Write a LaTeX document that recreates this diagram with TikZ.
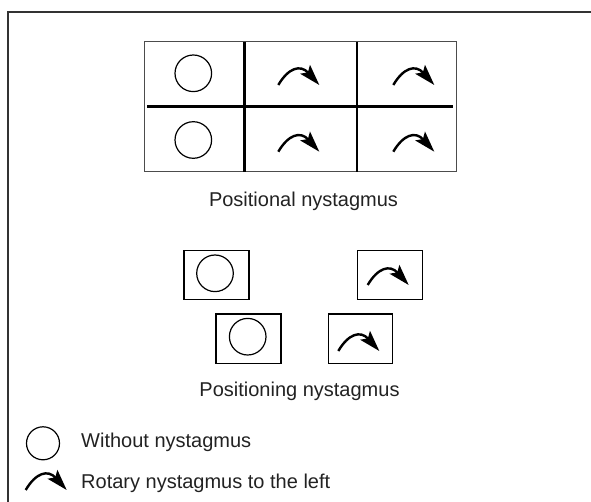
\documentclass[tikz,border=0pt]{standalone}
\usepackage{fontspec}
\setmainfont{Liberation Sans}
\usetikzlibrary{arrows.meta}
\definecolor{txt}{HTML}{222222}
\tikzset{
  frame/.style={line width=1.4pt, draw=black!80},
  gridborder/.style={line width=1.4pt, draw=black!70},
  gridline/.style={line width=2.4pt, draw=black},
  smallbox/.style={line width=1.3pt, draw=black},
  ring/.style={line width=1.2pt, draw=black},
  lbl/.style={font=\fontsize{20}{24}\selectfont, text=txt, anchor=base, inner sep=0pt},
  lgd/.style={font=\fontsize{20}{24}\selectfont, text=txt, anchor=base west, inner sep=0pt},
  rot/.pic={\draw[line width=2.4pt,-{Stealth[length=21pt,width=13pt,inset=4pt]}] (0,0) .. controls (10,-17) and (22,-21) .. (41,0);}
}
\begin{document}
\begin{tikzpicture}[x=1pt,y=-1pt]
\useasboundingbox (0,0) rectangle (591,502);
% outer frame
\draw[frame] (8,503) -- (8,12) -- (592,12);
% grid
\draw[gridborder] (144.7,41.7) rectangle (456.7,171.7);
\draw[gridline] (147,106.7) -- (453,106.7);
\draw[gridline] (244.3,41.7) -- (244.3,171.7);
\draw[gridline] (356.7,41.7) -- (356.7,171.7);
\draw[ring] (193.3,73.3) circle[radius=18.3];
\draw[ring] (193.3,140) circle[radius=18.3];
\pic at (278.3,85) {rot};
\pic at (393.3,85) {rot};
\pic at (278.3,151.7) {rot};
\pic at (393.3,151.7) {rot};
\node[lbl] (t1) at (303.5,206.7) {Positional nystagmus};
% small boxes
\draw[smallbox] (184,250.7) rectangle (249,299.3);
\draw[ring] (215,273.3) circle[radius=18.3];
\draw[smallbox] (357.7,250.7) rectangle (422.3,299.3);
\pic at (367.7,285) {rot};
\draw[smallbox] (216,314) rectangle (281,363.3);
\draw[ring] (247.7,336.7) circle[radius=18.3];
\draw[smallbox] (328.3,314) rectangle (392.7,363.3);
\pic at (338.3,351) {rot};
\node[lbl] (t2) at (299.5,396.7) {Positioning nystagmus};
% legend
\draw[ring] (43,443.3) circle[radius=16.5];
\node[lgd] (l1) at (81,447.3) {Without nystagmus};
\pic at (25.7,490) {rot};
\node[lgd] (l2) at (81,488.3) {Rotary nystagmus to the left};
\end{tikzpicture}
\end{document}
